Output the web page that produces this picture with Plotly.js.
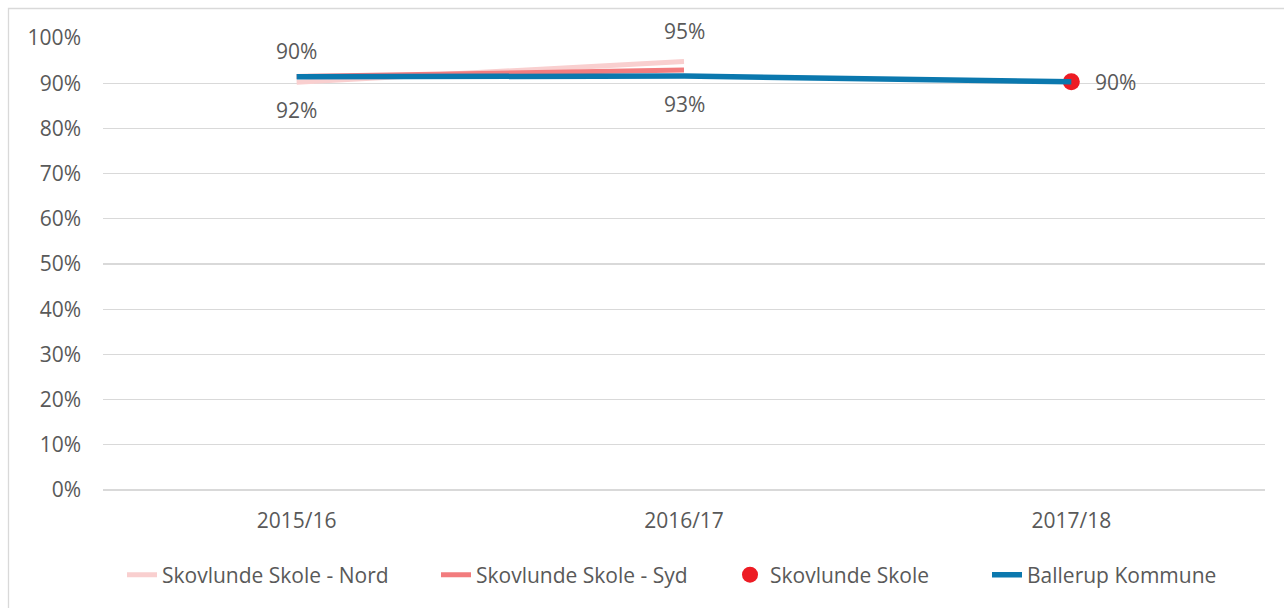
<!DOCTYPE html>
<html><head><meta charset="utf-8">
<script src="https://cdn.plot.ly/plotly-3.0.1.min.js"></script>
<style>html,body{margin:0;padding:0;background:#fff}</style>
</head><body><div id="chart" style="width:1284px;height:608px"></div>
<script>
var categories = ["2015/16", "2016/17", "2017/18"];
var nordValues = [0.902, 0.948, null];
var sydValues = [0.915, 0.929, null];
var skoleValues = [null, null, 0.903];
var ballerupValues = [0.914, 0.916, 0.903];
var yTickVals = [0,0.1,0.2,0.3,0.4,0.5,0.6,0.7,0.8,0.9,1.0];
var yTickText = ["0%","10%","20%","30%","40%","50%","60%","70%","80%","90%","100%"];

var FONT = "'Open Sans', sans-serif";
var TXT = "#595959";
var FS = 21;
function pct(v){ return Math.round(v*100) + "%"; }

var traces = [
  {name:"Skovlunde Skole - Nord", x:categories, y:nordValues, mode:"lines", legend:"legend",
   line:{color:"#F9CFCF", width:5}},
  {name:"Skovlunde Skole - Syd", x:categories, y:sydValues, mode:"lines", legend:"legend2",
   line:{color:"#F27C7E", width:5}},
  {name:"Skovlunde Skole", x:categories, y:skoleValues, mode:"markers", legend:"legend3",
   marker:{color:"#ED1C24", size:17}},
  {name:"Ballerup Kommune", x:categories, y:ballerupValues, mode:"lines", legend:"legend4",
   line:{color:"#0B78AE", width:5.5}}
];

var annotations = [];
categories.forEach(function(c,i){
  if (nordValues[i]!=null) annotations.push({x:c,y:nordValues[i],text:pct(nordValues[i]),showarrow:false,yshift:31,font:{family:FONT,size:FS,color:TXT}});
  if (sydValues[i]!=null) annotations.push({x:c,y:sydValues[i],text:pct(sydValues[i]),showarrow:false,yshift:-34,font:{family:FONT,size:FS,color:TXT}});
  if (skoleValues[i]!=null) annotations.push({x:c,y:skoleValues[i],text:pct(skoleValues[i]),showarrow:false,xanchor:"left",xshift:22,font:{family:FONT,size:FS,color:TXT}});
});

var L=103, R=1265, T=38, B=490;
var W=R-L, H=B-T;
function leg(px){
  return {orientation:"h", x:(px-L)/W, xanchor:"left", y:(B-575)/H, yanchor:"middle",
          font:{family:FONT,size:FS,color:TXT}, itemwidth:30, bgcolor:"rgba(0,0,0,0)"};
}
var layout = {
  width:1284, height:608,
  margin:{l:L, r:1284-R, t:T, b:608-B, pad:0},
  paper_bgcolor:"#fff", plot_bgcolor:"#fff",
  font:{family:FONT, size:FS, color:TXT},
  showlegend:true,
  legend:leg(122), legend2:leg(436), legend3:leg(730), legend4:leg(987),
  xaxis:{type:"category", range:[-0.5,2.5], showgrid:false, zeroline:false, showline:false,
         ticks:"", tickfont:{family:FONT,size:FS,color:TXT}, ticklabelstandoff:16, fixedrange:true},
  yaxis:{range:[0,1], tickvals:yTickVals, ticktext:yTickText, showgrid:true, gridcolor:"#D9D9D9", gridwidth:1.3,
         zeroline:true, zerolinecolor:"#D9D9D9", zerolinewidth:1.3, showline:false, ticks:"",
         tickfont:{family:FONT,size:FS,color:TXT}, ticklabelstandoff:21, fixedrange:true},
  annotations:annotations,
  shapes:[{type:"rect", xref:"paper", yref:"paper",
           x0:(8.5-L)/W, x1:(1300-L)/W, y0:(B-8.5)/H, y1:(B-620)/H,
           line:{color:"#D9D9D9", width:1.3}, fillcolor:"rgba(0,0,0,0)", layer:"below"}]
};
Plotly.newPlot("chart", traces, layout, {displayModeBar:false, staticPlot:true});
</script></body></html>
